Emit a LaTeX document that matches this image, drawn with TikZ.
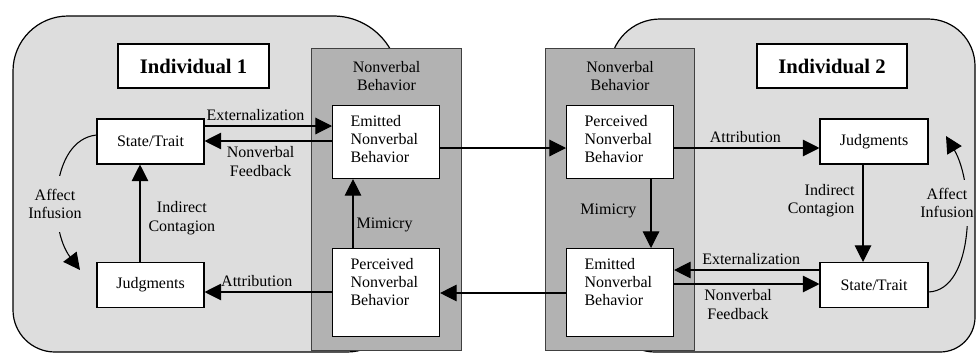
\documentclass[tikz,border=0pt]{standalone}
\usepackage{fontspec}
\setmainfont{Liberation Serif}
\usetikzlibrary{arrows.meta,positioning}
\newdimen\px \px=0.75pt
\newcommand{\nvtext}[2]{\parbox[c][#1\px][t]{71\px}{\vspace*{10\px}#2}}
\definecolor{regfill}{gray}{0.867}
\definecolor{panfill}{gray}{0.70}
\definecolor{panline}{gray}{0.25}
\tikzset{
  region/.style={draw, fill=regfill, line width=0.9pt},
  panel/.style={draw=panline, fill=panfill, line width=0.8pt, anchor=north west, inner sep=0pt, minimum height=302\px},
  title/.style={draw, fill=white, line width=0.8pt, minimum width=151\px, minimum height=44\px, font=\fontsize{15.5}{18}\selectfont\bfseries},
  box/.style={draw, fill=white, line width=0.8pt, minimum width=107\px, minimum height=45\px, inner sep=0pt},
  nvbox/.style={draw, fill=white, line width=0.8pt, anchor=north west, inner xsep=18\px, inner ysep=0pt},
  arr/.style={-{Triangle[length=12.5pt,width=12.5pt]}, line width=0.8pt},
  lbl/.style={inner sep=1.5pt, align=center},
  afflbl/.style={lbl, fill=regfill, inner xsep=0.5pt},
}

\begin{document}
\begin{tikzpicture}[x=0.75pt, y=-0.75pt, font=\fontsize{12}{13.6}\selectfont]
  \useasboundingbox (0,0) rectangle (977,354);

  % the two individuals
  \draw[region] (13,180) [rounded corners=55\px] |- (200,16) [rounded corners=66\px] -| (399,200)
    [rounded corners=52\px] |- (200,352) [rounded corners=42\px] -| (13,180) -- cycle;
  \draw[region] (610,180) [rounded corners=50\px] |- (800,19) [rounded corners=47\px] -| (975,200)
    [rounded corners=35\px] |- (800,352) [rounded corners=45\px] -| (610,180) -- cycle;

  % nonverbal behavior panels
  \node[panel, minimum width=150\px] (pan1) at (311,48) {};
  \node[panel, minimum width=149\px] (pan2) at (545,48) {};
  \node[lbl, below=8pt of pan1.north] (pan1lbl) {Nonverbal\\Behavior};
  \node[lbl, below=8pt of pan2.north] (pan2lbl) {Nonverbal\\Behavior};

  \node[title] (ind1) at (193.5,66) {Individual 1};
  \node[title, minimum width=150\px] (ind2) at (832,66) {Individual 2};

  \node[box] (st1) at (150.5,141.5) {State/Trait};
  \node[box] (jd1) at (150.5,285) {Judgments};
  \node[box, minimum width=108\px] (jd2) at (874,141.5) {Judgments};
  \node[box, minimum width=108\px] (st2) at (874,285) {State/Trait};

  \node[nvbox] (emit1) at (332,105) {\nvtext{73}{Emitted\\Nonverbal\\Behavior}};
  \node[nvbox] (perc1) at (332,248) {\nvtext{88}{Perceived\\Nonverbal\\Behavior}};
  \node[nvbox] (perc2) at (566,105) {\nvtext{73}{Perceived\\Nonverbal\\Behavior}};
  \node[nvbox] (emit2) at (566,248) {\nvtext{88}{Emitted\\Nonverbal\\Behavior}};

  % individual 1
  \draw[arr] (st1.east |- 0,126) -- node[lbl, above=2pt, pos=0.4] {Externalization} (emit1.west |- 0,126);
  \draw[arr] (emit1.west |- 0,141) -- node[lbl, below=2.5pt, pos=0.56] {Nonverbal\\Feedback} (st1.east |- 0,141);
  \draw[arr] (perc1.west |- 0,292) -- node[lbl, above=2pt, pos=0.59] {Attribution} (jd1.east |- 0,292);
  \draw[arr] (jd1.north -| 140,0) -- node[lbl, right=4.5pt, pos=0.45] {Indirect\\Contagion} (st1.south -| 140,0);
  \draw[arr] (perc1.north -| 353,0) -- node[lbl, right=0.75pt, pos=0.34] {Mimicry} (emit1.south -| 353,0);
  \coordinate (aff1) at (80,270);
  \draw[arr] (st1.west |- 0,135) .. controls (50,140) and (48,228) .. (aff1);
  \node[afflbl, inner ysep=10pt] (aff1lbl) at (55,204) {Affect\\Infusion};

  % between the two
  \draw[arr] (emit1.east |- 0,148) -- (perc2.west |- 0,148);
  \draw[arr] (emit2.west |- 0,293) -- (perc1.east |- 0,293);

  % individual 2
  \draw[arr] (perc2.east |- 0,148) -- node[lbl, above=2pt, pos=0.49] {Attribution} (jd2.west |- 0,148);
  \draw[arr] (perc2.south -| 651,0) -- node[lbl, left=9pt, pos=0.46] {Mimicry} (emit2.north -| 651,0);
  \draw[arr] (jd2.south -| 863,0) -- node[lbl, left=4.5pt, pos=0.37, align=right] {Indirect\\Contagion} (st2.north -| 863,0);
  \draw[arr] (st2.west |- 0,270) -- node[lbl, above=2pt, pos=0.47] {Externalization} (emit2.east |- 0,270);
  \draw[arr] (emit2.east |- 0,284) -- node[lbl, below=2.5pt, pos=0.44] {Nonverbal\\Feedback} (st2.west |- 0,284);
  \coordinate (aff2) at (946,136);
  \draw[arr] (st2.east |- 0,292) .. controls (975,290) and (975,185) .. (aff2);
  \node[afflbl, inner ysep=6pt] (aff2lbl) at (947,203) {Affect\\Infusion};
\end{tikzpicture}
\end{document}
